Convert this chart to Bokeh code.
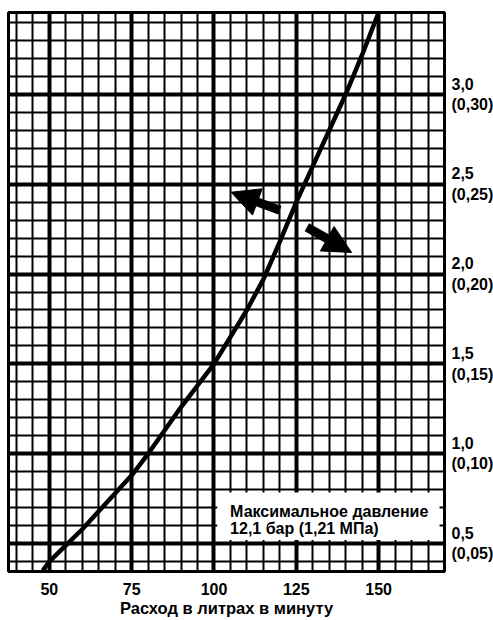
from bokeh.plotting import figure
from bokeh.models import Range1d, FixedTicker, BoxAnnotation, Label, Arrow, NormalHead
from bokeh.embed import file_html
from bokeh.resources import INLINE

# data
flow = [48, 50, 55, 60, 65, 70, 75, 80, 90, 100, 110, 115, 120, 125, 130, 135, 140, 145, 150]
pressure = [0.35, 0.40, 0.49, 0.58, 0.68, 0.78, 0.88, 1.00, 1.26, 1.50, 1.80, 1.97, 2.18, 2.40, 2.60, 2.80, 3.00, 3.22, 3.455]

x_major = [50, 75, 100, 125, 150]
x_minor = [40, 45, 55, 60, 65, 70, 80, 85, 90, 95, 105, 110, 115, 120, 130, 135, 140, 145, 155, 160, 165]
y_major = [0.5, 1.0, 1.5, 2.0, 2.5, 3.0]
y_minor = [0.4, 0.6, 0.7, 0.8, 0.9, 1.1, 1.2, 1.3, 1.4, 1.6, 1.7, 1.8, 1.9, 2.1, 2.2, 2.3, 2.4,
           2.6, 2.7, 2.8, 2.9, 3.1, 3.2, 3.3, 3.4]
bar_labels = ["0,5", "1,0", "1,5", "2,0", "2,5", "3,0"]
mpa_labels = ["(0,05)", "(0,10)", "(0,15)", "(0,20)", "(0,25)", "(0,30)"]

note_lines = ["Максимальное давление", "12,1 бар (1,21 МПа)"]
note_box = dict(left=101.0, right=168.5, bottom=0.52, top=0.785)
note_pos = [(104.9, 0.678), (104.9, 0.584)]

arrows = [((120.0, 2.355), (105.2, 2.455)), ((128.2, 2.26), (141.8, 2.12))]

FONT = "Liberation Sans"

p = figure(frame_width=436, frame_height=559, output_backend="svg", toolbar_location=None,
           x_range=Range1d(37.6, 170), y_range=Range1d(0.345, 3.455),
           y_axis_location="right",
           min_border_left=8, min_border_top=12, min_border_right=48, min_border_bottom=46)

p.outline_line_color = "black"
p.outline_line_width = 3
p.background_fill_color = "white"

# grid
p.xgrid.ticker = FixedTicker(ticks=x_major, minor_ticks=x_minor)
p.ygrid.ticker = FixedTicker(ticks=y_major, minor_ticks=y_minor)
for g in (p.xgrid, p.ygrid):
    g.grid_line_color = "black"
    g.grid_line_width = 4
    g.grid_line_alpha = 1
    g.minor_grid_line_color = "black"
    g.minor_grid_line_width = 2

# axes
p.xaxis.ticker = FixedTicker(ticks=x_major)
p.xaxis.major_label_overrides = {v: str(v) for v in x_major}
p.xaxis.axis_label = "Расход в литрах в минуту"
p.yaxis.ticker = FixedTicker(ticks=y_major)
p.yaxis.major_label_overrides = {v: f"{a}\n{b}" for v, a, b in zip(y_major, bar_labels, mpa_labels)}
for ax in (p.xaxis, p.yaxis):
    ax.axis_line_color = None
    ax.major_tick_line_color = None
    ax.minor_tick_line_color = None
    ax.major_label_text_font = FONT
    ax.major_label_text_font_style = "bold"
    ax.major_label_text_font_size = "16px"
    ax.major_label_text_color = "black"
    ax.axis_label_text_font = FONT
    ax.axis_label_text_font_style = "bold"
    ax.axis_label_text_font_size = "16.5px"
    ax.axis_label_text_color = "black"
p.xaxis.major_label_standoff = 5
p.xaxis.axis_label_standoff = 1
p.yaxis.major_label_standoff = 1

# curve
p.line(flow, pressure, line_color="black", line_width=4.5)

# arrows
for (x0, y0), (x1, y1) in arrows:
    p.add_layout(Arrow(x_start=x0, y_start=y0, x_end=x1, y_end=y1,
                       line_color="black", line_width=9,
                       end=NormalHead(size=28, fill_color="black", line_color="black")))

# note box
p.add_layout(BoxAnnotation(fill_color="white", fill_alpha=1, line_color=None, **note_box))
for txt, (lx, ly) in zip(note_lines, note_pos):
    p.add_layout(Label(x=lx, y=ly, text=txt, text_font=FONT, text_font_style="bold",
                       text_font_size="16px", text_color="black", text_baseline="middle"))

open("out.html", "w").write(file_html(p, INLINE))
